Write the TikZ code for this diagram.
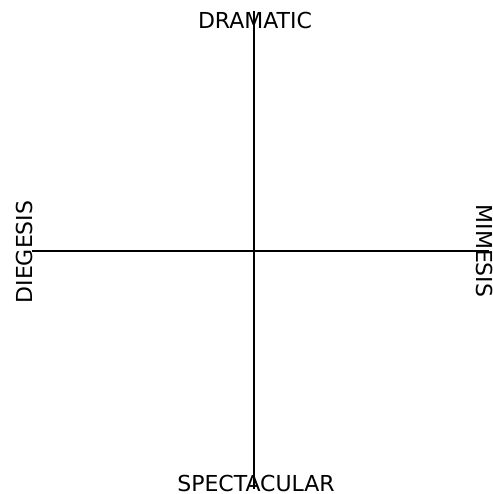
\documentclass[tikz,border=0pt]{standalone}
\usepackage{fontspec}
\setmainfont{DejaVu Sans}
\usetikzlibrary{positioning}

\begin{document}
\begin{tikzpicture}[x=1pt, y=-1pt,
    every node/.style={inner sep=0pt, font=\fontsize{22}{26}\selectfont},
    axis/.style={line width=1.5pt, black}]
  \useasboundingbox (0,0) rectangle (492,494);
  % axis ends
  \coordinate (top) at (254,11);
  \coordinate (bottom) at (254,489);
  \coordinate (left) at (32,251);
  \coordinate (right) at (489,251);
  \draw[axis] (top) -- (bottom);
  \draw[axis] (left) -- (right);
  % labels
  \node[anchor=base] (dramatic) at (255,29) {DRAMATIC};
  \node[anchor=base] (spectacular) at (256,491) {SPECTACULAR};
  \node[anchor=base, rotate=90] (diegesis) at (32,252) {DIEGESIS};
  \node[anchor=base, rotate=-90] (mimesis) at (476.5,251) {MIMESIS};
\end{tikzpicture}
\end{document}
